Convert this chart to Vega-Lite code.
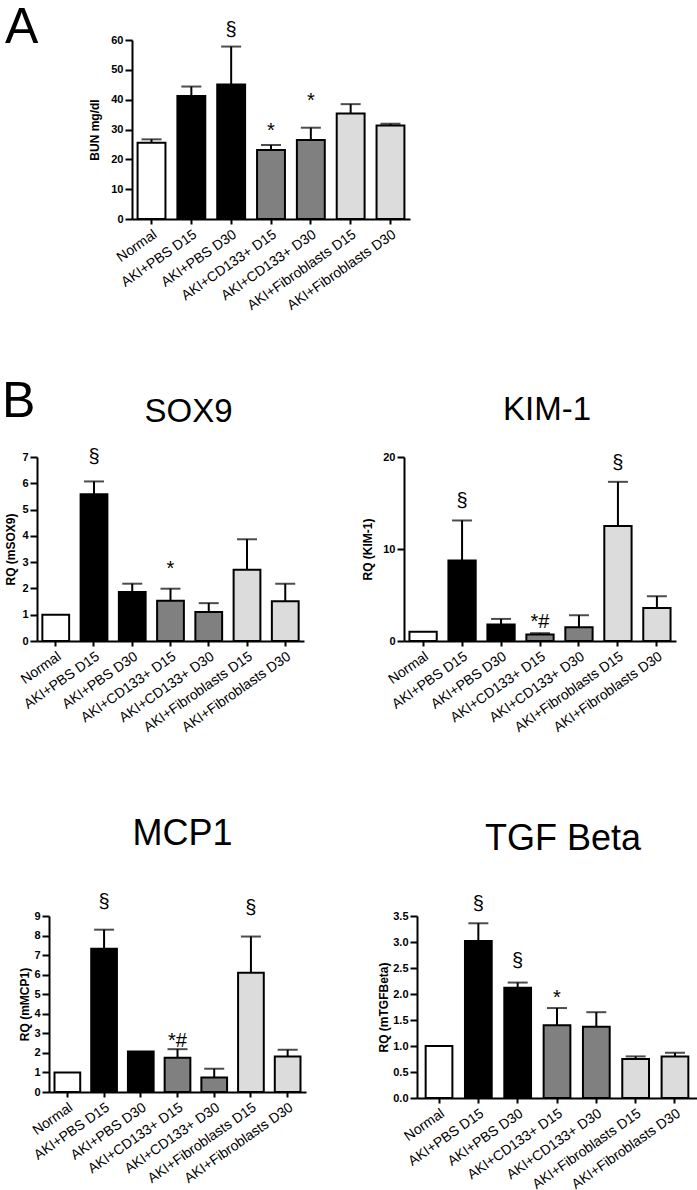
{
  "$schema": "https://vega.github.io/schema/vega-lite/v6.json",
  "background": "white",
  "padding": {"top": 3, "left": 0, "right": 0, "bottom": 0},
  "datasets": {
    "bars": [
      {"panel": "A", "group": "Normal", "mean": 25.6, "upper": 26.7},
      {"panel": "A", "group": "AKI+PBS D15", "mean": 41.2, "upper": 44.4},
      {"panel": "A", "group": "AKI+PBS D30", "mean": 45.1, "upper": 57.8},
      {"panel": "A", "group": "AKI+CD133+ D15", "mean": 23.1, "upper": 24.8},
      {"panel": "A", "group": "AKI+CD133+ D30", "mean": 26.5, "upper": 30.6},
      {"panel": "A", "group": "AKI+Fibroblasts D15", "mean": 35.4, "upper": 38.5},
      {"panel": "A", "group": "AKI+Fibroblasts D30", "mean": 31.3, "upper": 31.9},
      {"panel": "SOX9", "group": "Normal", "mean": 1.0, "upper": null},
      {"panel": "SOX9", "group": "AKI+PBS D15", "mean": 5.58, "upper": 6.07},
      {"panel": "SOX9", "group": "AKI+PBS D30", "mean": 1.86, "upper": 2.18},
      {"panel": "SOX9", "group": "AKI+CD133+ D15", "mean": 1.53, "upper": 1.99},
      {"panel": "SOX9", "group": "AKI+CD133+ D30", "mean": 1.1, "upper": 1.44},
      {"panel": "SOX9", "group": "AKI+Fibroblasts D15", "mean": 2.71, "upper": 3.87},
      {"panel": "SOX9", "group": "AKI+Fibroblasts D30", "mean": 1.51, "upper": 2.18},
      {"panel": "KIM", "group": "Normal", "mean": 1.0, "upper": null},
      {"panel": "KIM", "group": "AKI+PBS D15", "mean": 8.75, "upper": 13.1},
      {"panel": "KIM", "group": "AKI+PBS D30", "mean": 1.8, "upper": 2.4},
      {"panel": "KIM", "group": "AKI+CD133+ D15", "mean": 0.7, "upper": 0.85},
      {"panel": "KIM", "group": "AKI+CD133+ D30", "mean": 1.5, "upper": 2.8},
      {"panel": "KIM", "group": "AKI+Fibroblasts D15", "mean": 12.5, "upper": 17.3},
      {"panel": "KIM", "group": "AKI+Fibroblasts D30", "mean": 3.58, "upper": 4.87},
      {"panel": "MCP1", "group": "Normal", "mean": 1.0, "upper": null},
      {"panel": "MCP1", "group": "AKI+PBS D15", "mean": 7.33, "upper": 8.3},
      {"panel": "MCP1", "group": "AKI+PBS D30", "mean": 2.07, "upper": null},
      {"panel": "MCP1", "group": "AKI+CD133+ D15", "mean": 1.75, "upper": 2.19},
      {"panel": "MCP1", "group": "AKI+CD133+ D30", "mean": 0.74, "upper": 1.19},
      {"panel": "MCP1", "group": "AKI+Fibroblasts D15", "mean": 6.1, "upper": 7.95},
      {"panel": "MCP1", "group": "AKI+Fibroblasts D30", "mean": 1.81, "upper": 2.16},
      {"panel": "TGF", "group": "Normal", "mean": 1.0, "upper": null},
      {"panel": "TGF", "group": "AKI+PBS D15", "mean": 3.02, "upper": 3.36},
      {"panel": "TGF", "group": "AKI+PBS D30", "mean": 2.12, "upper": 2.22},
      {"panel": "TGF", "group": "AKI+CD133+ D15", "mean": 1.4, "upper": 1.73},
      {"panel": "TGF", "group": "AKI+CD133+ D30", "mean": 1.37, "upper": 1.65},
      {"panel": "TGF", "group": "AKI+Fibroblasts D15", "mean": 0.75, "upper": 0.8},
      {"panel": "TGF", "group": "AKI+Fibroblasts D30", "mean": 0.8, "upper": 0.87}
    ],
    "notes": [
      {"panel": "A", "group": "AKI+PBS D30", "y": 63.4, "label": "§"},
      {"panel": "A", "group": "AKI+CD133+ D15", "y": 29.6, "label": "*"},
      {"panel": "A", "group": "AKI+CD133+ D30", "y": 39.4, "label": "*"},
      {"panel": "SOX9", "group": "AKI+PBS D15", "y": 7.0, "label": "§"},
      {"panel": "SOX9", "group": "AKI+CD133+ D15", "y": 2.73, "label": "*"},
      {"panel": "KIM", "group": "AKI+PBS D15", "y": 15.2, "label": "§"},
      {"panel": "KIM", "group": "AKI+Fibroblasts D15", "y": 19.3, "label": "§"},
      {"panel": "KIM", "group": "AKI+CD133+ D15", "y": 2.1, "label": "*#"},
      {"panel": "MCP1", "group": "AKI+PBS D15", "y": 9.7, "label": "§"},
      {"panel": "MCP1", "group": "AKI+Fibroblasts D15", "y": 9.4, "label": "§"},
      {"panel": "MCP1", "group": "AKI+CD133+ D15", "y": 2.6, "label": "*#"},
      {"panel": "TGF", "group": "AKI+PBS D15", "y": 3.73, "label": "§"},
      {"panel": "TGF", "group": "AKI+PBS D30", "y": 2.63, "label": "§"},
      {"panel": "TGF", "group": "AKI+CD133+ D15", "y": 1.93, "label": "*"}
    ],
    "spacer": [{"k": 1}]
  },
  "spacing": 81,
  "resolve": {"scale": {"x": "independent", "y": "independent"}},
  "vconcat": [
    {
      "spacing": 64,
      "resolve": {"scale": {"x": "independent", "y": "independent"}},
      "vconcat": [
        {
          "spacing": 49,
          "resolve": {"scale": {"x": "independent", "y": "independent"}},
          "hconcat": [
            {
              "width": 1, "height": 1,
              "title": {"text": "A", "anchor": "start", "fontSize": 50, "offset": 0, "dx": 5, "dy": 13},
              "data": {"name": "spacer"},
              "mark": {"type": "point", "opacity": 0, "size": 1},
              "encoding": {}
            },
            {
              "width": 278, "height": 179,
              "data": {"name": "bars"},
              "transform": [{"filter": "datum.panel === 'A'"}],
              "encoding": {
                "x": {"field": "group", "type": "nominal", "title": null,
                  "scale": {"domain": ["Normal","AKI+PBS D15","AKI+PBS D30","AKI+CD133+ D15","AKI+CD133+ D30","AKI+Fibroblasts D15","AKI+Fibroblasts D30"], "paddingInner": 0.3, "paddingOuter": 0.14}},
                "y": {"field": "mean", "type": "quantitative", "title": "BUN mg/dl",
                  "scale": {"domain": [0, 60], "nice": false},
                  "axis": {"values": [0,10,20,30,40,50,60], "titlePadding": 9}}
              },
              "layer": [
                {"mark": {"type": "bar", "stroke": "black", "strokeWidth": 2},
                 "encoding": {"color": {"field": "group", "type": "nominal", "legend": null,
                   "scale": {"domain": ["Normal","AKI+PBS D15","AKI+PBS D30","AKI+CD133+ D15","AKI+CD133+ D30","AKI+Fibroblasts D15","AKI+Fibroblasts D30"],
                             "range": ["#ffffff","#000000","#000000","#808080","#808080","#dcdcdc","#dcdcdc"]}}}},
                {"mark": {"type": "rule", "strokeWidth": 2, "color": "black"},
                 "encoding": {"y2": {"field": "upper"}}},
                {"mark": {"type": "tick", "thickness": 2, "size": 20, "color": "black"},
                 "encoding": {"y": {"field": "upper", "type": "quantitative", "title": "BUN mg/dl"}}},
                {"data": {"name": "notes"}, "transform": [{"filter": "datum.panel === 'A'"}],
                 "mark": {"type": "text", "fontSize": 20, "baseline": "middle", "color": "black", "font": "Liberation Sans"},
                 "encoding": {"y": {"field": "y", "type": "quantitative", "title": "BUN mg/dl"}, "text": {"field": "label"}}}
              ]
            }
          ]
        },
        {
          "spacing": 3,
          "title": {"text": "B", "anchor": "start", "frame": "bounds", "fontSize": 50, "dx": 2, "dy": 37},
          "resolve": {"scale": {"x": "independent", "y": "independent"}},
          "hconcat": [
            {
              "width": 1, "height": 1,
              "data": {"name": "spacer"},
              "mark": {"type": "point", "opacity": 0, "size": 1},
              "encoding": {}
            },
            {
              "spacing": 57,
              "resolve": {"scale": {"x": "independent", "y": "independent"}},
              "hconcat": [
                {
                  "width": 267, "height": 184,
                  "title": {"text": "SOX9", "fontSize": 33, "dx": 18, "offset": 18},
                  "data": {"name": "bars"},
                  "transform": [{"filter": "datum.panel === 'SOX9'"}],
                  "encoding": {
                    "x": {"field": "group", "type": "nominal", "title": null,
                      "scale": {"domain": ["Normal","AKI+PBS D15","AKI+PBS D30","AKI+CD133+ D15","AKI+CD133+ D30","AKI+Fibroblasts D15","AKI+Fibroblasts D30"], "paddingInner": 0.3, "paddingOuter": 0.14}},
                    "y": {"field": "mean", "type": "quantitative", "title": "RQ (mSOX9)",
                      "scale": {"domain": [0, 7], "nice": false},
                      "axis": {"values": [0,1,2,3,4,5,6,7], "titlePadding": 4}}
                  },
                  "layer": [
                    {"mark": {"type": "bar", "stroke": "black", "strokeWidth": 2},
                     "encoding": {"color": {"field": "group", "type": "nominal", "legend": null,
                       "scale": {"domain": ["Normal","AKI+PBS D15","AKI+PBS D30","AKI+CD133+ D15","AKI+CD133+ D30","AKI+Fibroblasts D15","AKI+Fibroblasts D30"],
                                 "range": ["#ffffff","#000000","#000000","#808080","#808080","#dcdcdc","#dcdcdc"]}}}},
                    {"mark": {"type": "rule", "strokeWidth": 2, "color": "black"},
                     "encoding": {"y2": {"field": "upper"}}},
                    {"mark": {"type": "tick", "thickness": 2, "size": 20, "color": "black"},
                     "encoding": {"y": {"field": "upper", "type": "quantitative", "title": "RQ (mSOX9)"}}},
                    {"data": {"name": "notes"}, "transform": [{"filter": "datum.panel === 'SOX9'"}],
                     "mark": {"type": "text", "fontSize": 20, "baseline": "middle", "color": "black", "font": "Liberation Sans"},
                     "encoding": {"y": {"field": "y", "type": "quantitative", "title": "RQ (mSOX9)"}, "text": {"field": "label"}}}
                  ]
                },
                {
                  "width": 272, "height": 184,
                  "title": {"text": "KIM-1", "fontSize": 33, "dx": 7, "offset": 24},
                  "data": {"name": "bars"},
                  "transform": [{"filter": "datum.panel === 'KIM'"}],
                  "encoding": {
                    "x": {"field": "group", "type": "nominal", "title": null,
                      "scale": {"domain": ["Normal","AKI+PBS D15","AKI+PBS D30","AKI+CD133+ D15","AKI+CD133+ D30","AKI+Fibroblasts D15","AKI+Fibroblasts D30"], "paddingInner": 0.3, "paddingOuter": 0.14}},
                    "y": {"field": "mean", "type": "quantitative", "title": "RQ (KIM-1)",
                      "scale": {"domain": [0, 20], "nice": false},
                      "axis": {"values": [0,10,20], "titlePadding": 8}}
                  },
                  "layer": [
                    {"mark": {"type": "bar", "stroke": "black", "strokeWidth": 2},
                     "encoding": {"color": {"field": "group", "type": "nominal", "legend": null,
                       "scale": {"domain": ["Normal","AKI+PBS D15","AKI+PBS D30","AKI+CD133+ D15","AKI+CD133+ D30","AKI+Fibroblasts D15","AKI+Fibroblasts D30"],
                                 "range": ["#ffffff","#000000","#000000","#808080","#808080","#dcdcdc","#dcdcdc"]}}}},
                    {"mark": {"type": "rule", "strokeWidth": 2, "color": "black"},
                     "encoding": {"y2": {"field": "upper"}}},
                    {"mark": {"type": "tick", "thickness": 2, "size": 20, "color": "black"},
                     "encoding": {"y": {"field": "upper", "type": "quantitative", "title": "RQ (KIM-1)"}}},
                    {"data": {"name": "notes"}, "transform": [{"filter": "datum.panel === 'KIM'"}],
                     "mark": {"type": "text", "fontSize": 20, "baseline": "middle", "color": "black", "font": "Liberation Sans"},
                     "encoding": {"y": {"field": "y", "type": "quantitative", "title": "RQ (KIM-1)"}, "text": {"field": "label"}}}
                  ]
                }
              ]
            }
          ]
        }
      ]
    },
    {
      "spacing": 17,
      "resolve": {"scale": {"x": "independent", "y": "independent"}},
      "hconcat": [
        {
          "width": 1, "height": 1,
          "data": {"name": "spacer"},
          "mark": {"type": "point", "opacity": 0, "size": 1},
          "encoding": {}
        },
        {
          "spacing": 71,
          "resolve": {"scale": {"x": "independent", "y": "independent"}},
          "hconcat": [
            {
              "width": 257, "height": 176,
              "title": {"text": "MCP1", "fontSize": 36, "dx": 5, "offset": 39},
              "data": {"name": "bars"},
              "transform": [{"filter": "datum.panel === 'MCP1'"}],
              "encoding": {
                "x": {"field": "group", "type": "nominal", "title": null,
                  "scale": {"domain": ["Normal","AKI+PBS D15","AKI+PBS D30","AKI+CD133+ D15","AKI+CD133+ D30","AKI+Fibroblasts D15","AKI+Fibroblasts D30"], "paddingInner": 0.3, "paddingOuter": 0.15}},
                "y": {"field": "mean", "type": "quantitative", "title": "RQ (mMCP1)",
                  "scale": {"domain": [0, 9], "nice": false},
                  "axis": {"values": [0,1,2,3,4,5,6,7,8,9], "titlePadding": 2}}
              },
              "layer": [
                {"mark": {"type": "bar", "stroke": "black", "strokeWidth": 2},
                 "encoding": {"color": {"field": "group", "type": "nominal", "legend": null,
                   "scale": {"domain": ["Normal","AKI+PBS D15","AKI+PBS D30","AKI+CD133+ D15","AKI+CD133+ D30","AKI+Fibroblasts D15","AKI+Fibroblasts D30"],
                             "range": ["#ffffff","#000000","#000000","#808080","#808080","#dcdcdc","#dcdcdc"]}}}},
                {"mark": {"type": "rule", "strokeWidth": 2, "color": "black"},
                 "encoding": {"y2": {"field": "upper"}}},
                {"mark": {"type": "tick", "thickness": 2, "size": 20, "color": "black"},
                 "encoding": {"y": {"field": "upper", "type": "quantitative", "title": "RQ (mMCP1)"}}},
                {"data": {"name": "notes"}, "transform": [{"filter": "datum.panel === 'MCP1'"}],
                 "mark": {"type": "text", "fontSize": 20, "baseline": "middle", "color": "black", "font": "Liberation Sans"},
                 "encoding": {"y": {"field": "y", "type": "quantitative", "title": "RQ (mMCP1)"}, "text": {"field": "label"}}}
              ]
            },
            {
              "width": 280, "height": 182,
              "title": {"text": "TGF  Beta", "fontSize": 36, "dx": 6, "offset": 36},
              "data": {"name": "bars"},
              "transform": [{"filter": "datum.panel === 'TGF'"}],
              "encoding": {
                "x": {"field": "group", "type": "nominal", "title": null,
                  "scale": {"domain": ["Normal","AKI+PBS D15","AKI+PBS D30","AKI+CD133+ D15","AKI+CD133+ D30","AKI+Fibroblasts D15","AKI+Fibroblasts D30"], "paddingInner": 0.32, "paddingOuter": 0.22}},
                "y": {"field": "mean", "type": "quantitative", "title": "RQ (mTGFBeta)",
                  "scale": {"domain": [0, 3.5], "nice": false},
                  "axis": {"values": [0,0.5,1,1.5,2,2.5,3,3.5], "format": ".1f", "titlePadding": 2}}
              },
              "layer": [
                {"mark": {"type": "bar", "stroke": "black", "strokeWidth": 2},
                 "encoding": {"color": {"field": "group", "type": "nominal", "legend": null,
                   "scale": {"domain": ["Normal","AKI+PBS D15","AKI+PBS D30","AKI+CD133+ D15","AKI+CD133+ D30","AKI+Fibroblasts D15","AKI+Fibroblasts D30"],
                             "range": ["#ffffff","#000000","#000000","#808080","#808080","#dcdcdc","#dcdcdc"]}}}},
                {"mark": {"type": "rule", "strokeWidth": 2, "color": "black"},
                 "encoding": {"y2": {"field": "upper"}}},
                {"mark": {"type": "tick", "thickness": 2, "size": 20, "color": "black"},
                 "encoding": {"y": {"field": "upper", "type": "quantitative", "title": "RQ (mTGFBeta)"}}},
                {"data": {"name": "notes"}, "transform": [{"filter": "datum.panel === 'TGF'"}],
                 "mark": {"type": "text", "fontSize": 20, "baseline": "middle", "color": "black", "font": "Liberation Sans"},
                 "encoding": {"y": {"field": "y", "type": "quantitative", "title": "RQ (mTGFBeta)"}, "text": {"field": "label"}}}
              ]
            }
          ]
        }
      ]
    }
  ],
  "config": {
    "view": {"stroke": null},
    "font": "Liberation Sans",
    "title": {"font": "Liberation Sans", "fontWeight": "normal", "color": "black"},
    "axis": {"domainColor": "black", "domainWidth": 2, "tickColor": "black", "tickWidth": 2, "tickSize": 7,
             "labelColor": "black", "labelFont": "Liberation Sans", "labelFontSize": 11, "labelFontWeight": "bold", "labelPadding": 2,
             "titleFont": "Liberation Sans", "titleFontSize": 12, "titleFontWeight": "bold", "titleColor": "black", "grid": false},
    "axisX": {"labelAngle": -35, "labelAlign": "right", "labelBaseline": "top", "labelFontWeight": "normal", "labelFontSize": 14, "labelPadding": 3, "tickSize": 5}
  }
}
